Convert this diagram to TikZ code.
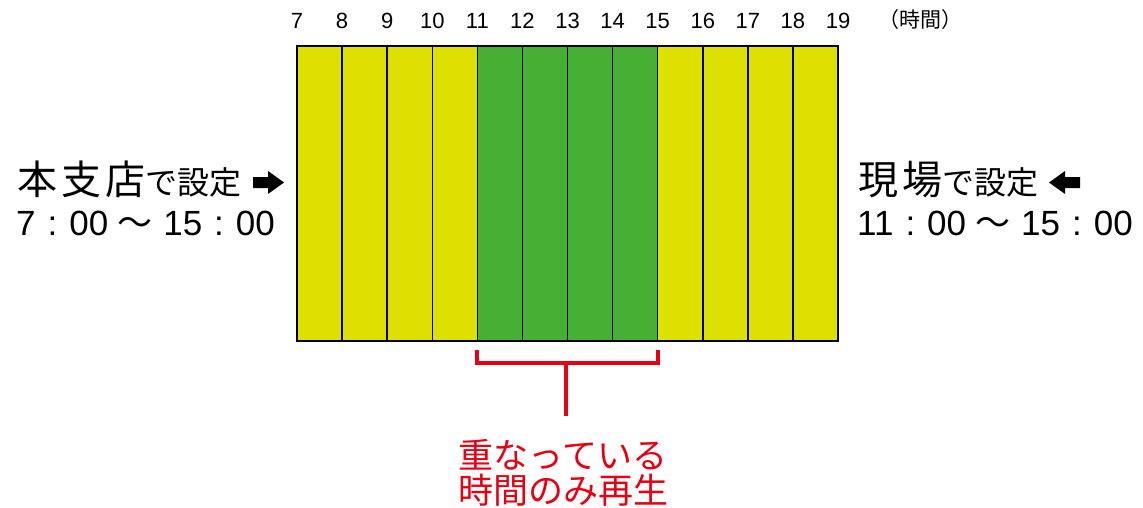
\documentclass[tikz,border=0pt]{standalone}
\usepackage{fontspec}
\setmainfont{Liberation Sans}
\newfontfamily\cjk{Noto Sans CJK JP}
\definecolor{ylw}{RGB}{221,224,0}
\definecolor{grn}{RGB}{70,176,53}
\definecolor{rd}{RGB}{230,0,18}
\newcommand{\tcol}{\hspace{12pt}:\hspace{12pt}}
\newcommand{\twave}{\hspace{9pt}{\cjk ～}\hspace{11pt}}
\tikzset{
  cell/.style={draw=black, line width=1.5pt},
  hour/.style={font=\fontsize{22}{22}\selectfont, inner sep=0pt},
  side/.style={inner sep=0pt, anchor=base west},
  bracket/.style={draw=rd, line width=4pt},
  arrowshape/.style={fill=black},
}
\begin{document}
\begin{tikzpicture}[x=1pt,y=-1pt]
\useasboundingbox (0,0) rectangle (1143,508);
% columns
\foreach \i in {0,...,11}{
  \pgfmathsetmacro{\xa}{297+45.0833*\i}
  \pgfmathsetmacro{\xb}{297+45.0833*(\i+1)}
  \ifnum\i<4 \def\cc{ylw}\else\ifnum\i<8 \def\cc{grn}\else\def\cc{ylw}\fi\fi
  \filldraw[cell, fill=\cc] (\xa,46) rectangle (\xb,341);
}
% hour labels
\foreach \h [count=\i from 0] in {7,...,19}{
  \node[hour] (h\h) at ({297+45.0833*\i},21) {\h};
}
\node[hour] (unit) at (920,20) {\cjk\fontsize{21}{21}\selectfont （時間）};
% left text
\node[side] (lt1) at (17,194) {\cjk\fontsize{40}{40}\selectfont 本\hspace{4pt}支\hspace{4pt}店\fontsize{32}{32}\selectfont で設定};
\node[side] (lt2) at (16,235) {\fontsize{35}{35}\selectfont 7\tcol 00\twave 15\tcol 00};
\fill[arrowshape] (253,177) -- (268,177) -- (268,171) -- (284,182.5) -- (268,194) -- (268,188) -- (253,188) -- cycle;
% right text
\node[side] (rt1) at (858,194) {\cjk\fontsize{40}{40}\selectfont 現\hspace{4pt}場\fontsize{32}{32}\selectfont で設定};
\node[side] (rt2) at (857,235) {\fontsize{35}{35}\selectfont 11\tcol 00\twave 15\tcol 00};
\fill[arrowshape] (1080,177) -- (1065,177) -- (1065,171) -- (1049,182.5) -- (1065,194) -- (1065,188) -- (1080,188) -- cycle;
% bracket
\coordinate (bl) at (477,350);
\coordinate (br) at (658,350);
\coordinate (bm) at (566,363);
\coordinate (bs) at (566,416);
\draw[bracket] (bl) |- (bm) -| (br);
\draw[bracket] (bm) -- (bs);
\node[text=rd, align=center, inner sep=0pt, font=\cjk\fontsize{35}{35}\selectfont] (lbl) at (563,473) {重なっている\\時間のみ再生};
\end{tikzpicture}
\end{document}
